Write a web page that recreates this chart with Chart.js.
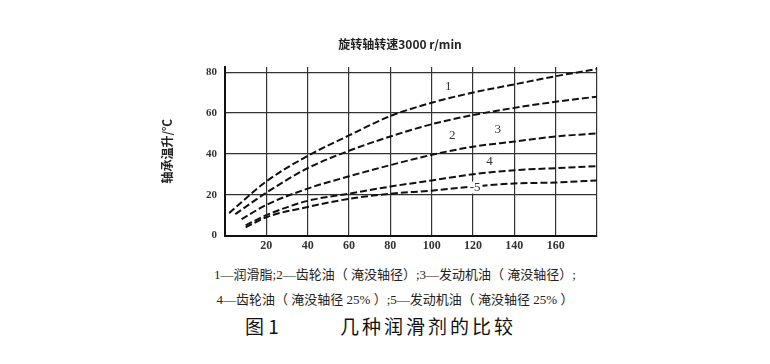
<!DOCTYPE html>
<html>
<head>
<meta charset="utf-8">
<script src="https://cdn.jsdelivr.net/npm/chart.js@4.4.0/dist/chart.umd.min.js"></script>
<style>
  body { margin: 0; background: #fff; width: 770px; height: 364px; overflow: hidden; }
  #wrap { position: absolute; left: 0; top: 0; width: 770px; height: 262px; }
  #title { position: absolute; top: 35px; left: 300px; width: 200px; text-align: center; color: #222;
           font-family: "Noto Sans CJK SC", sans-serif; font-size: 12px; font-weight: bold; }
  .cap { position: absolute; left: 0; width: 790px; text-align: center; color: #222;
         font-family: "Liberation Serif", "Noto Sans CJK SC", serif; font-size: 13px; }
  #fig { position: absolute; top: 312px; left: 0; width: 770px; font-family: "Noto Sans CJK SC", sans-serif;
         font-size: 19px; color: #111; }
  #fig span { position: absolute; }
</style>
</head>
<body>
<div id="wrap"><canvas id="chart"></canvas></div>
<div id="title">旋转轴转速3000 r/min</div>
<div class="cap" style="top:264px">1—润滑脂;2—齿轮油（ 淹没轴径）;3—发动机油（ 淹没轴径）;</div>
<div class="cap" style="top:289px">4—齿轮油（ 淹没轴径 25% ）;5—发动机油（ 淹没轴径 25% ）</div>
<div id="fig"><span style="left:245px">图 1</span><span style="left:340px;letter-spacing:3px">几种润滑剂的比较</span></div>
<script>
// time (min) and temperature rise
const x1 = [2, 20, 40, 60, 80, 100, 120, 140, 160, 180];
const y1 = [11, 26.5, 39, 49, 58.5, 65, 70, 74, 78, 81.5];
const x2 = [5, 20, 40, 60, 80, 100, 120, 140, 160, 180];
const y2 = [10.5, 21, 33, 41.5, 48.5, 54.5, 59, 62.5, 65.5, 68];
const x3 = [8, 20, 40, 60, 80, 100, 120, 140, 160, 180];
const y3 = [8, 15, 23, 29, 34.5, 39.5, 43.5, 46, 48.5, 50];
const x4 = [10, 20, 40, 60, 80, 100, 120, 140, 160, 180];
const y4 = [5, 10, 17, 20.5, 24, 27, 30, 32, 33, 34];
const x5 = [10, 20, 40, 60, 80, 100, 120, 140, 160, 180];
const y5 = [4, 9, 14, 18, 20.5, 22, 24, 25.5, 26, 27];

const seriesNames = ["1", "2", "3", "4", "5"];
const xTickLabels = [20, 40, 60, 80, 100, 120, 140, 160];
const yTickValues = [0, 20, 40, 60, 80];

const pts = (xs, ys) => xs.map((x, i) => ({ x: x, y: ys[i] }));
const allX = [x1, x2, x3, x4, x5];
const allY = [y1, y2, y3, y4, y5];

// curve number labels, placed in data units
const curveLabels = [
  { text: "1", x: 108, y: 73 },
  { text: "2", x: 110, y: 49 },
  { text: "3", x: 132, y: 52 },
  { text: "4", x: 128, y: 36 },
  { text: "-5", x: 121, y: 23.5 }
];

const labelPlugin = {
  id: "curveLabels",
  afterDatasetsDraw(chart) {
    const ctx = chart.ctx;
    const xs = chart.scales.x, ys = chart.scales.y;
    ctx.save();
    ctx.font = "13px 'Liberation Serif'";
    ctx.textAlign = "center";
    ctx.textBaseline = "middle";
    curveLabels.forEach(l => {
      const px = xs.getPixelForValue(l.x), py = ys.getPixelForValue(l.y);
      const w = ctx.measureText(l.text).width + 4;
      ctx.fillStyle = "#fff";
      ctx.fillRect(px - w / 2, py - 6, w, 12);
      ctx.fillStyle = "#333";
      ctx.fillText(l.text, px, py);
    });
    ctx.restore();
  }
};

new Chart(document.getElementById("chart"), {
  type: "line",
  data: {
    datasets: seriesNames.map((name, i) => ({
      label: name,
      data: pts(allX[i], allY[i]),
      borderColor: "#111",
      borderWidth: 2,
      borderDash: [7, 3],
      pointRadius: 0,
      cubicInterpolationMode: "monotone",
      fill: false
    }))
  },
  options: {
    responsive: true,
    maintainAspectRatio: false,
    animation: false,
    layout: { padding: { left: 160, right: 173, top: 67, bottom: 6 } },
    plugins: {
      legend: { display: false },
      tooltip: { enabled: false }
    },
    scales: {
      x: {
        type: "linear",
        min: 0,
        max: 180,
        afterBuildTicks: s => { s.ticks = [0].concat(xTickLabels, [180]).map(v => ({ value: v })); },
        ticks: {
          color: "#333",
          font: { family: "Liberation Serif", size: 12, weight: "bold" },
          padding: 3,
          callback: v => xTickLabels.includes(v) ? String(v) : ""
        },
        grid: { color: "#333", lineWidth: 1.2, drawTicks: false },
        border: { color: "#111", width: 2 }
      },
      y: {
        type: "linear",
        min: 0,
        max: 82.5,
        afterBuildTicks: s => { s.ticks = yTickValues.map(v => ({ value: v })); },
        afterFit: s => { s.width = 65; },
        ticks: {
          color: "#333",
          font: { family: "Liberation Serif", size: 11, weight: "bold" },
          padding: 8
        },
        grid: { color: "#333", lineWidth: 1.2, drawTicks: false },
        border: { color: "#111", width: 2 },
        title: {
          display: true,
          text: "轴承温升/℃",
          color: "#222",
          font: { family: "Noto Sans CJK SC", size: 12, weight: "bold" },
          padding: { top: 0, bottom: 14 }
        }
      }
    }
  },
  plugins: [labelPlugin]
});
</script>
</body>
</html>
